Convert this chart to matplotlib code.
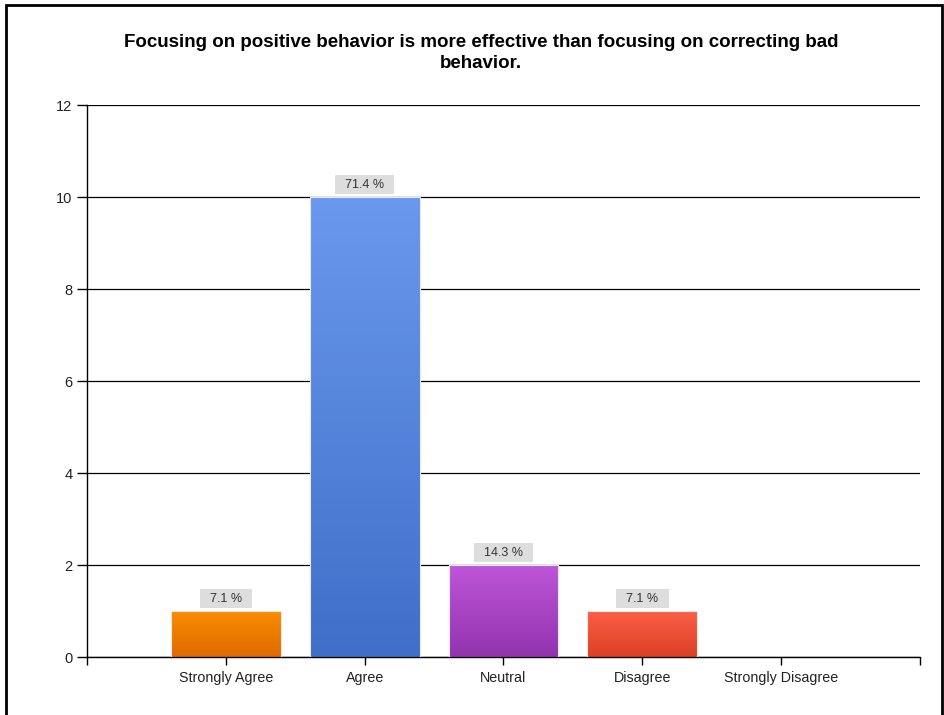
from matplotlib import pyplot as plt
from matplotlib.patches import Rectangle
import numpy as np

categories = ['Strongly Agree', 'Agree', 'Neutral', 'Disagree', 'Strongly Disagree']
counts = [1, 10, 2, 1, 0]
labels = ['7.1 %', '71.4 %', '14.3 %', '7.1 %', '']
# top / bottom colours of each bar gradient
top_colors = ['#fa8c00', '#6a98ee', '#bd56d8', '#fb6048', '#ffffff']
bottom_colors = ['#de6a00', '#3f6fc8', '#9333ae', '#dc3f22', '#ffffff']

plt.rcParams['font.family'] = ['Liberation Sans', 'DejaVu Sans']

fig = plt.figure(figsize=(9.45, 7.15), dpi=100)
ax = fig.add_axes([0.0921, 0.0811, 0.8814, 0.772])

x = np.arange(len(categories))
width = 0.79

ax.set_xlim(-1, 5)
ax.set_ylim(0, 12)
ax.set_yticks([0, 2, 4, 6, 8, 10, 12])
ax.grid(axis='y', color='black', linewidth=0.9, zorder=0)
ax.set_axisbelow(True)

for i in range(len(categories)):
    if counts[i] <= 0:
        continue
    c1 = np.array(plt.matplotlib.colors.to_rgb(bottom_colors[i]))
    c2 = np.array(plt.matplotlib.colors.to_rgb(top_colors[i]))
    t = np.linspace(0, 1, 100)[:, None]
    grad = (c1 * (1 - t) + c2 * t)[:, None, :]
    x0 = x[i] - width / 2
    ax.imshow(grad, extent=[x0, x0 + width, 0, counts[i]], origin='lower',
              aspect='auto', zorder=2)
    ax.add_patch(Rectangle((x0, 0), width, counts[i], fill=False,
                           edgecolor='#e8e8e8', linewidth=0.8, zorder=3))
    ax.text(x[i], counts[i] + 0.27, '  ' + labels[i] + '  ', ha='center',
            va='center', fontsize=9, color='#333333', zorder=4,
            bbox=dict(boxstyle='square,pad=0.25', facecolor='#dddddd',
                      edgecolor='none'))

ax.set_xlim(-1, 5)
ax.set_ylim(0, 12)

ax.set_xticks(list(x) + [-1, 5])
ax.set_xticklabels(categories + ['', ''], fontsize=10.3, color='#222222')
ax.tick_params(axis='x', length=6, width=1, pad=4, colors='black',
               labelcolor='#222222')
ax.tick_params(axis='y', length=7, width=1, labelsize=10.5, colors='black',
               labelcolor='#222222')

for s in ['top', 'right']:
    ax.spines[s].set_visible(False)
ax.spines['left'].set_linewidth(1)
ax.spines['bottom'].set_linewidth(1)

fig.text(0.509, 0.926, 'Focusing on positive behavior is more effective than focusing on correcting bad\nbehavior.',
         ha='center', va='center', fontsize=13.5, fontweight='bold',
         linespacing=1.25)

# outer frame
fig.patches.append(Rectangle((0.006, -0.01), 0.991, 1.003, fill=False,
                             edgecolor='black', linewidth=2,
                             transform=fig.transFigure, figure=fig))

plt.savefig('out.png', dpi=100)
